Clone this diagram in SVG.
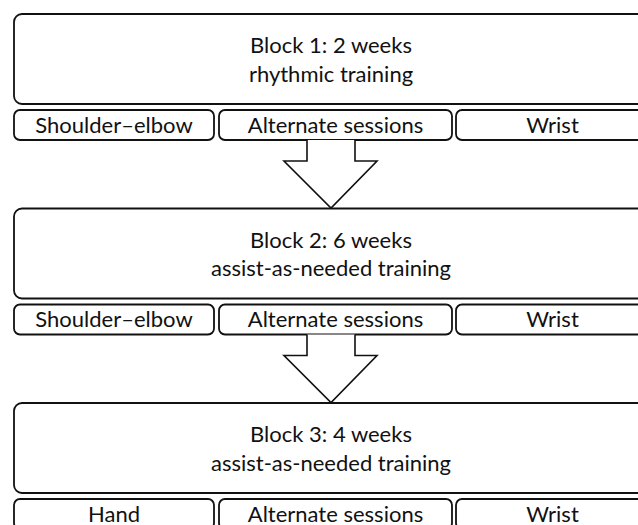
<svg xmlns="http://www.w3.org/2000/svg" width="638" height="525" viewBox="0 0 638 525">
<style>
.box{fill:#fff;stroke:#111;stroke-width:1.8}
.t{font-family:Lato,"Open Sans","Liberation Sans",sans-serif;font-size:22px;fill:#111;text-anchor:middle}
.arr{fill:#fff;stroke:#111;stroke-width:1.6;stroke-linejoin:miter}
</style>
<rect width="638" height="525" fill="#fff"/>
<g id="block1">
<rect class="box" x="14" y="14" width="650" height="90" rx="8"/>
<text class="t" x="331" y="53">Block 1: 2 weeks</text>
<text class="t" x="331" y="81.5">rhythmic training</text>
</g>
<g id="b1-shoulder"><rect class="box" x="14" y="110" width="200" height="30" rx="6"/><text class="t" x="114" y="132.5">Shoulder–elbow</text></g>
<g id="b1-alt"><rect class="box" x="219" y="110" width="233" height="30" rx="6"/><text class="t" x="335.5" y="132.5">Alternate sessions</text></g>
<g id="b1-wrist"><rect class="box" x="456" y="110" width="200" height="30" rx="6"/><text class="t" x="552.5" y="132.5">Wrist</text></g>

<g id="block2">
<rect class="box" x="14" y="208.5" width="650" height="90" rx="8"/>
<text class="t" x="331" y="247.5">Block 2: 6 weeks</text>
<text class="t" x="331" y="276">assist-as-needed training</text>
</g>
<g id="b2-shoulder"><rect class="box" x="14" y="304.5" width="200" height="30" rx="6"/><text class="t" x="114" y="327">Shoulder–elbow</text></g>
<g id="b2-alt"><rect class="box" x="219" y="304.5" width="233" height="30" rx="6"/><text class="t" x="335.5" y="327">Alternate sessions</text></g>
<g id="b2-wrist"><rect class="box" x="456" y="304.5" width="200" height="30" rx="6"/><text class="t" x="552.5" y="327">Wrist</text></g>

<g id="block3">
<rect class="box" x="14" y="403" width="650" height="90" rx="8"/>
<text class="t" x="331" y="442">Block 3: 4 weeks</text>
<text class="t" x="331" y="470.5">assist-as-needed training</text>
</g>
<g id="b3-hand"><rect class="box" x="14" y="499" width="200" height="30" rx="6"/><text class="t" x="114" y="521.5">Hand</text></g>
<g id="b3-alt"><rect class="box" x="219" y="499" width="233" height="30" rx="6"/><text class="t" x="335.5" y="521.5">Alternate sessions</text></g>
<g id="b3-wrist"><rect class="box" x="456" y="499" width="200" height="30" rx="6"/><text class="t" x="552.5" y="521.5">Wrist</text></g>

<g id="connectors">
<path class="arr" d="M307,140 V161 H284 L331,208 L377,161 H355 V140"/>
<path class="arr" d="M307,334.5 V355.5 H284 L331,402.5 L377,355.5 H355 V334.5"/>
</g>
</svg>
